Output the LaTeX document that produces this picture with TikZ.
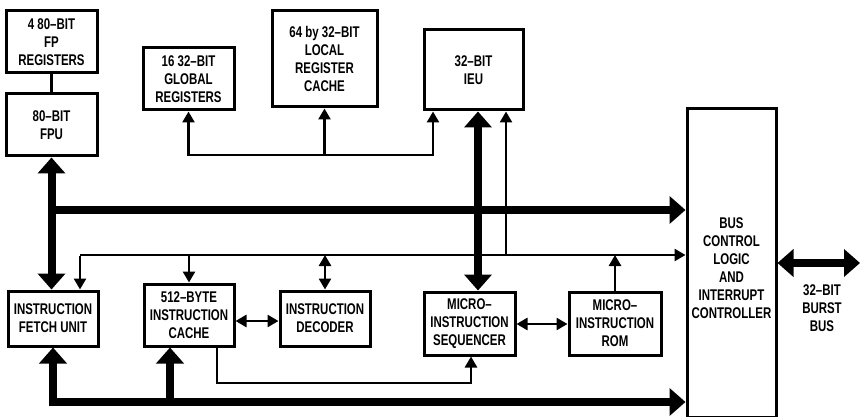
\documentclass[tikz,border=0pt]{standalone}
\usepackage{fontspec}
\newfontfamily\lbl{Liberation Sans}[FakeStretch=0.74]
\usetikzlibrary{arrows.meta}
\begin{document}
\begin{tikzpicture}[x=1pt,y=-1pt,
  txt/.style={align=center, inner sep=0pt, font=\lbl\bfseries\fontsize{15.5}{18}\selectfont},
  box/.style={txt, draw, line width=3pt},
  cn/.style={line width=2.6pt},
  thk/.style={line width=8pt},
  st/.tip={Triangle[length=11pt,width=12pt]},
  bt/.tip={Triangle[length=16pt,width=27pt]}]
\useasboundingbox (0,0) rectangle (860,417);
% boxes
\node[box, minimum width=91pt, minimum height=62pt] (fpreg) at (51.5,42) {4 80–BIT\\FP\\REGISTERS};
\node[box, minimum width=91pt, minimum height=62pt] (fpu) at (51.5,125) {80–BIT\\FPU};
\node[box, minimum width=91pt, minimum height=62pt] (glob) at (188.5,79) {16 32–BIT\\GLOBAL\\REGISTERS};
\node[box, minimum width=105pt, minimum height=96pt] (local) at (324.5,59) {64 by 32–BIT\\LOCAL\\REGISTER\\CACHE};
\node[box, minimum width=99pt, minimum height=80pt] (ieu) at (473.5,70) {32–BIT\\IEU};
\node[box, minimum width=89pt, minimum height=309pt] (bus) at (731.5,263) {};
\node[txt] (bustxt) at (731.5,268) {BUS\\CONTROL\\LOGIC\\AND\\INTERRUPT\\CONTROLLER};
\node[txt] (burst) at (822,308) {32–BIT\\BURST\\BUS};
\node[box, minimum width=90pt, minimum height=55pt] (ifu) at (53,318.5) {INSTRUCTION\\FETCH UNIT};
\node[box, minimum width=90pt, minimum height=62pt] (cache) at (189,315) {512–BYTE\\INSTRUCTION\\CACHE};
\node[box, minimum width=90pt, minimum height=55pt] (dec) at (325,318.5) {INSTRUCTION\\DECODER};
\node[box, minimum width=91pt, minimum height=63pt] (seq) at (469.5,323.5) {MICRO–\\INSTRUCTION\\SEQUENCER};
\node[box, minimum width=92pt, minimum height=63pt] (rom) at (615,323.5) {MICRO–\\INSTRUCTION\\ROM};
% coordinates
\coordinate (fpj) at (52,210);
\coordinate (gL) at (188.5,155);
\coordinate (gR) at (433,155);
\coordinate (tL) at (80,255);
\coordinate (ieuA) at (506,255);
\coordinate (ieuT) at (478,200);
\coordinate (cb) at (217,383);
\coordinate (sb) at (471,383);
\coordinate (bL) at (53,402);
\coordinate (bC) at (170,402);
\coordinate (bb) at (860,263);
% fp registers to fpu
\draw[line width=3.5pt] (fpreg.south) -- (fpu.south |- fpu.north);
% thick fp bus
\draw[thk,bt-bt,line cap=butt] (fpu.south) -- (fpu.south |- ifu.north);
\draw[thk,-bt] (fpj) -- (bus.west |- fpj);
% global register bus
\draw[cn] (gL) -- (gR);
\draw[cn,-st] ([yshift=-1.3pt]gL) -- (glob.south);
\draw[cn,-st] (local.south |- gL) -- (local.south);
\draw[cn,-st] ([yshift=-1.3pt]gR) -- (gR |- ieu.south);
% second thin bus
\draw[cn,-st] (tL) -- (bus.west |- tL);
\draw[cn,-st] ([yshift=-1.3pt]tL) -- (tL |- ifu.north);
\draw[cn,-st] (cache.north |- tL) -- (cache.north);
\draw[cn,st-st] (dec.north |- tL) -- (dec.north);
\draw[cn,-st] (rom.north) -- (rom.north |- tL);
\draw[cn,-st] ([yshift=1.3pt]ieuA) -- (ieuA |- ieu.south);
% ieu thick
\draw[thk,bt-bt] (ieuT |- ieu.south) -- (ieuT |- seq.north);
% horizontal links
\draw[cn,st-st] (cache.east |- 0,321) -- (dec.west |- 0,321);
\draw[cn,st-st] (seq.east |- 0,324) -- (rom.west |- 0,324);
% cache to sequencer
\draw[cn,-st] (cb |- cache.south) -- (cb) -- (sb) -- (sb |- seq.south);
% bottom thick bus
\draw[thk,bt-bt,line join=miter] (ifu.south) -- (bL) -- (bus.west |- bL);
\draw[thk,-bt] (bC) -- (bC |- cache.south);
% burst bus
\draw[thk,bt-bt] (bus.east |- bb) -- (bb);
\end{tikzpicture}
\end{document}
